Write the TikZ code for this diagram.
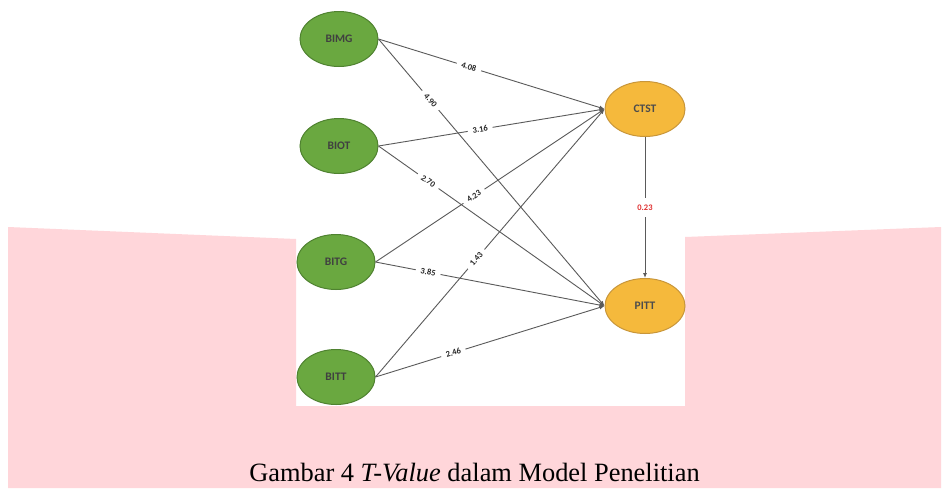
\documentclass[tikz,border=0pt]{standalone}
\usepackage{fontspec}
\setmainfont{Liberation Serif}
\newfontfamily\lblfont{Carlito}
\usetikzlibrary{arrows.meta,shapes.geometric}
\definecolor{pinkbg}{HTML}{FFD6DA}
\definecolor{gfill}{HTML}{6AA840}
\definecolor{gline}{HTML}{4F8230}
\definecolor{ofill}{HTML}{F5B93C}
\definecolor{oline}{HTML}{C8963A}
\definecolor{edgecol}{HTML}{5A5A5A}
\definecolor{redlbl}{HTML}{E03030}
\tikzset{
  gnode/.style={ellipse, draw=gline, line width=1pt, fill=gfill, minimum width=78pt, minimum height=55pt, inner sep=0pt, font=\lblfont\bfseries\fontsize{11.5}{11.5}\selectfont, text=black!75},
  onode/.style={ellipse, draw=oline, line width=1pt, fill=ofill, minimum width=80pt, minimum height=55pt, inner sep=0pt, font=\lblfont\bfseries\fontsize{11.5}{11.5}\selectfont, text=black!70},
  edgeline/.style={draw=edgecol, line width=0.9pt, -{Latex[length=5pt,width=4pt]}},
  lbl/.style={fill=white, inner xsep=5pt, inner ysep=0.5pt, sloped, font=\lblfont\bfseries\fontsize{8.5}{8.5}\selectfont, text=black!85},
  redl/.style={fill=white, inner xsep=2pt, inner ysep=7pt, font=\lblfont\bfseries\fontsize{8.5}{8.5}\selectfont, text=redlbl}
}
\begin{document}
\begin{tikzpicture}[x=1pt,y=-1pt]
\useasboundingbox (0,0) rectangle (942,488);
\fill[white] (0,0) rectangle (942,488);
\fill[pinkbg] (8,227) -- (296,239) -- (296,406) -- (685,406) -- (685,237) -- (941,227) -- (941,488) -- (8,488) -- cycle;

\node[gnode] (bimg) at (339,39) {BIMG};
\node[gnode] (biot) at (339,146) {BIOT};
\node[gnode] (bitg) at (336,262) {BITG};
\node[gnode] (bitt) at (336,377) {BITT};
\node[onode] (ctst) at (645,109) {CTST};
\node[onode] (pitt) at (645,306) {PITT};

\draw[edgeline] (bimg.east) -- node[lbl, pos=0.4] {4.08} (ctst.west);
\draw[edgeline] (bimg.east) -- node[lbl, pos=0.23] {4.90} (pitt.west);
\draw[edgeline] (biot.east) -- node[lbl, pos=0.45] {3.16} (ctst.west);
\draw[edgeline] (biot.east) -- node[lbl, pos=0.22] {2.70} (pitt.west);
\draw[edgeline] (bitg.east) -- node[lbl, pos=0.43] {4.23} (ctst.west);
\draw[edgeline] (bitg.east) -- node[lbl, pos=0.23] {3.85} (pitt.west);
\draw[edgeline] (bitt.east) -- node[lbl, pos=0.44] {1.43} (ctst.west);
\draw[edgeline] (bitt.east) -- node[lbl, pos=0.34] {2.46} (pitt.west);
\draw[edgeline] (ctst.south) -- node[redl, pos=0.5] {0.23} (pitt.north);

\node[anchor=base, font=\fontsize{26.4}{30}\selectfont, inner sep=0pt] (cap) at (474.5,481) {Gambar 4 \textit{T-Value} dalam Model Penelitian};
\end{tikzpicture}
\end{document}
